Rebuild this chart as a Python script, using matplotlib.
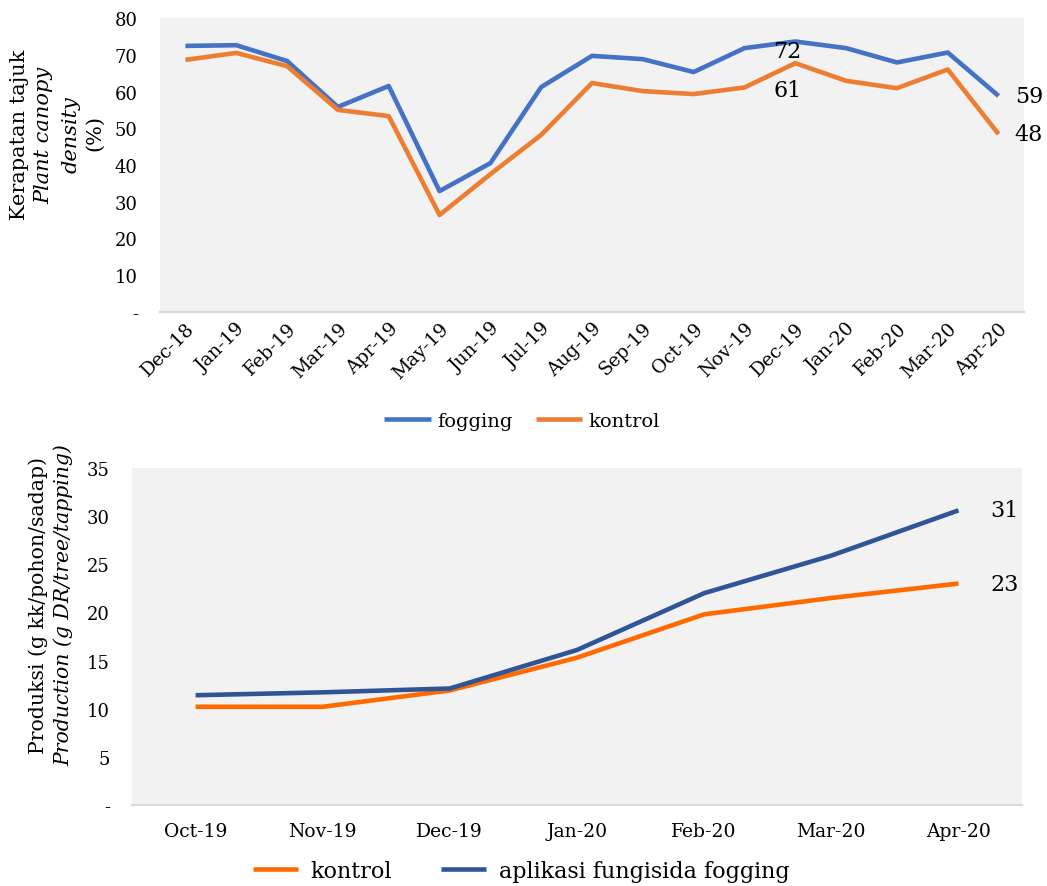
import matplotlib
matplotlib.use("Agg")
import matplotlib.pyplot as plt
import numpy as np

plt.rcParams['font.family'] = ['DejaVu Serif']

# canopy density per month
months_top = ['Dec-18', 'Jan-19', 'Feb-19', 'Mar-19', 'Apr-19', 'May-19', 'Jun-19', 'Jul-19',
              'Aug-19', 'Sep-19', 'Oct-19', 'Nov-19', 'Dec-19', 'Jan-20', 'Feb-20', 'Mar-20', 'Apr-20']
fogging = [72.4, 72.6, 68.3, 55.8, 61.5, 32.9, 40.5, 61.2, 69.7, 68.8, 65.3, 71.8, 73.6,
           71.8, 67.9, 70.6, 58.8]
kontrol = [68.6, 70.5, 66.9, 55.0, 53.3, 26.4, 37.5, 48.2, 62.3, 60.1, 59.3, 61.1, 67.7,
           62.9, 60.9, 66.0, 48.4]

# latex production per month
months_bot = ['Oct-19', 'Nov-19', 'Dec-19', 'Jan-20', 'Feb-20', 'Mar-20', 'Apr-20']
prod_kontrol = [10.2, 10.2, 11.9, 15.3, 19.8, 21.5, 23.0]
prod_fogging = [11.4, 11.7, 12.1, 16.1, 22.0, 25.9, 30.6]

W, H = 1047, 887
fig = plt.figure(figsize=(W / 100, H / 100), dpi=100)


def px_axes(l, t, r, b):
    return fig.add_axes([l / W, 1 - b / H, (r - l) / W, (b - t) / H])


def style(ax):
    ax.set_facecolor('#f2f2f2')
    for s in ['top', 'right', 'left']:
        ax.spines[s].set_visible(False)
    ax.spines['bottom'].set_color('#d9d9d9')
    ax.spines['bottom'].set_linewidth(1.5)
    ax.tick_params(length=0)


def fmt_dash(v, _):
    return '-' if v == 0 else f'{v:.0f}'


# --- top panel ---
ax1 = px_axes(160, 19, 1024, 313)
style(ax1)
x1 = np.arange(len(months_top))
ax1.plot(x1, fogging, color='#4472c4', lw=3.3, label='fogging', solid_capstyle='butt')
ax1.plot(x1, kontrol, color='#ed7d31', lw=3.3, label='kontrol', solid_capstyle='butt')
ax1.set_xlim(-0.5, len(months_top) - 0.5)
ax1.set_ylim(0, 80)
ax1.set_yticks(range(0, 81, 10))
ax1.yaxis.set_major_formatter(plt.FuncFormatter(fmt_dash))
ax1.tick_params(axis='y', labelsize=13, pad=16)
ax1.set_xticks(x1)
ax1.set_xticklabels(months_top, rotation=45, ha='right', rotation_mode='anchor', fontsize=13.5)
ax1.tick_params(axis='x', pad=5)

ax1.text(11.85, 71, '72', ha='center', va='center', fontsize=16)
ax1.text(11.85, 60.5, '61', ha='center', va='center', fontsize=16)
ax1.text(16.32, fogging[-1], f'{fogging[-1]:.0f}', ha='left', va='center', fontsize=16,
         clip_on=False)
ax1.text(16.32, kontrol[-1], f'{kontrol[-1]:.0f}', ha='left', va='center', fontsize=16,
         clip_on=False)

fig.legend(handles=ax1.get_lines(), loc='center', bbox_to_anchor=(522 / W, 1 - 422 / H),
           ncol=2, frameon=False, fontsize=14, handlelength=2.4, handletextpad=0.3,
           columnspacing=1.2)

fig.text(20 / W, 1 - 135 / H, 'Kerapatan tajuk', rotation=90, ha='center', va='center',
         fontsize=15)
fig.text(44 / W, 1 - 135 / H, 'Plant canopy', rotation=90, ha='center', va='center',
         fontsize=15, style='italic')
fig.text(71 / W, 1 - 135 / H, 'density', rotation=90, ha='center', va='center',
         fontsize=15, style='italic')
fig.text(95 / W, 1 - 133 / H, '(%)', rotation=90, ha='center', va='center', fontsize=15)

# --- bottom panel ---
ax2 = px_axes(132, 469, 1022, 806)
style(ax2)
x2 = np.arange(len(months_bot))
l1, = ax2.plot(x2, prod_kontrol, color='#ff6a00', lw=3.3, label='kontrol', solid_capstyle='butt')
l2, = ax2.plot(x2, prod_fogging, color='#2f5597', lw=3.3, label='aplikasi fungisida fogging',
               solid_capstyle='butt')
ax2.set_xlim(-0.5, len(months_bot) - 0.5)
ax2.set_ylim(0, 35)
ax2.set_yticks(range(0, 36, 5))
ax2.yaxis.set_major_formatter(plt.FuncFormatter(fmt_dash))
ax2.tick_params(axis='y', labelsize=13, pad=16)
ax2.set_xticks(x2)
ax2.set_xticklabels(months_bot, fontsize=13.5)
ax2.tick_params(axis='x', pad=12)

ax2.text(6.25, prod_fogging[-1], f'{prod_fogging[-1]:.0f}', ha='left', va='center',
         fontsize=16)
ax2.text(6.25, prod_kontrol[-1], f'{prod_kontrol[-1]:.0f}', ha='left', va='center',
         fontsize=16)

fig.legend(handles=[l1, l2], loc='center', bbox_to_anchor=(521 / W, 1 - 872 / H),
           ncol=2, frameon=False, fontsize=16, handlelength=2.05, handletextpad=0.55,
           columnspacing=2.2)

fig.text(38 / W, 1 - 605 / H, 'Produksi (g kk/pohon/sadap)', rotation=90, ha='center',
         va='center', fontsize=14.7)
fig.text(63 / W, 1 - 605 / H, 'Production (g DR/tree/tapping)', rotation=90, ha='center',
         va='center', fontsize=14.7, style='italic')

fig.savefig('out.png', dpi=100)
